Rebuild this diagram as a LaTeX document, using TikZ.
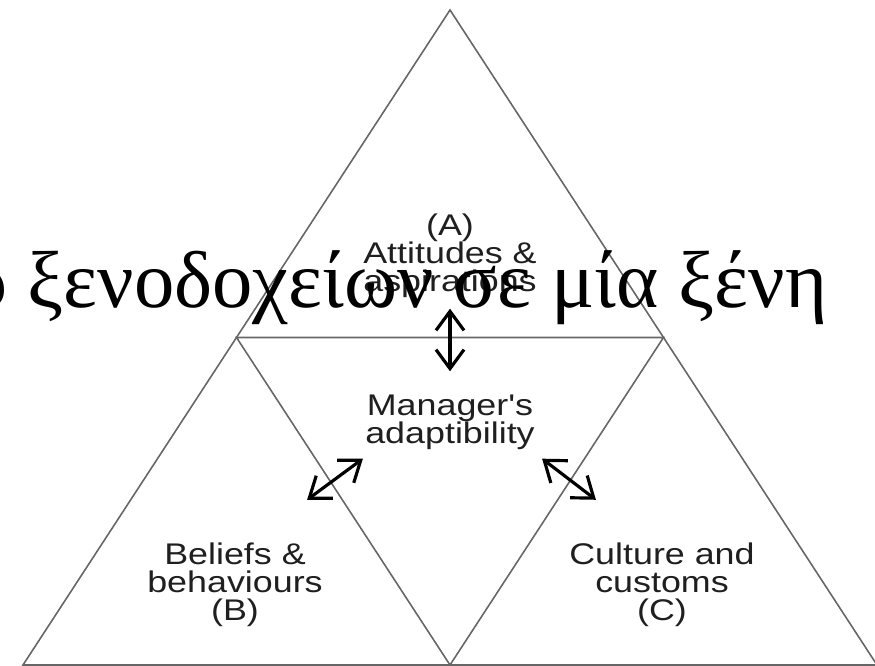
\documentclass[tikz,border=0pt]{standalone}
\usepackage{fontspec}
\setmainfont{Liberation Sans}[Ligatures=TeXOff]
\newfontfamily\greekfont{Liberation Serif}
\usetikzlibrary{arrows.meta}
\tikzstyle{side} = [draw, color=black!60, line width=0.9pt, line join=miter]
\tikzstyle{texto} = [align=center, inner sep=0pt, text=black!88, xscale=1.2,
  font=\fontsize{17}{15.9}\selectfont]
\tikzstyle{banner} = [anchor=base west, inner sep=0pt,
  font=\greekfont\fontsize{45.9}{52}\selectfont]
\tikzstyle{line} = [draw, color=black, line width=1.8pt,
  {Straight Barb[length=3.8mm,width=5.6mm]}-{Straight Barb[length=3.8mm,width=5.6mm]}]
\newcommand{\region}[2]{node (#1) [texto] {#2}}

\begin{document}
\begin{tikzpicture}
  \useasboundingbox (0,0) rectangle (17.5,13.32);

  % triangle area
  \coordinate (TOP) at (9.0,13.12);
  \coordinate (LEFT) at (0.46,0.02);
  \coordinate (RIGHT) at (17.54,0.02);
  \coordinate (BOTTOM) at (9.0,0.02);
  \coordinate (MIDLEFT) at (4.73,6.57);
  \coordinate (MIDRIGHT) at (13.27,6.57);

  \path [side] (TOP) -- (LEFT) -- (RIGHT) -- cycle;
  \path [side] (MIDLEFT) -- (MIDRIGHT) -- (BOTTOM) -- cycle;

  % texts of the four parts
  \path (9.0,8.21) \region {ATTITUDES}{(A)\\Attitudes \&\\aspirations};
  \path (9.0,4.88) \region {MANAGER}{Manager's\\adaptibility};
  \path (4.70,1.62) \region {BELIEFS}{Beliefs \&\\behaviours\\(B)};
  \path (13.24,1.62) \region {CULTURE}{Culture and\\customs\\(C)};

  % ends of the arrows
  \path (ATTITUDES.south)+(0.0,-0.22) coordinate (ATIP);
  \path (MANAGER.north)+(0.0,0.46) coordinate (MTOP);
  \path (MANAGER.south west)+(-0.04,-0.18) coordinate (MLEFT);
  \path (MANAGER.south east)+(0.14,-0.18) coordinate (MRIGHT);
  \path (BELIEFS.north east)+(-0.32,0.86) coordinate (BTIP);
  \path (CULTURE.north west)+(0.54,0.86) coordinate (CTIP);

  % Draw arrows between elements
  \path [line] (ATIP) -- (MTOP);
  \path [line] (BTIP) -- (MLEFT);
  \path [line] (MRIGHT) -- (CTIP);

  % greek line over everything
  \path (-0.66,7.16) node (GREEK) [banner] {ρ ξενοδοχείων σε μία ξένη};

\end{tikzpicture}
\end{document}
